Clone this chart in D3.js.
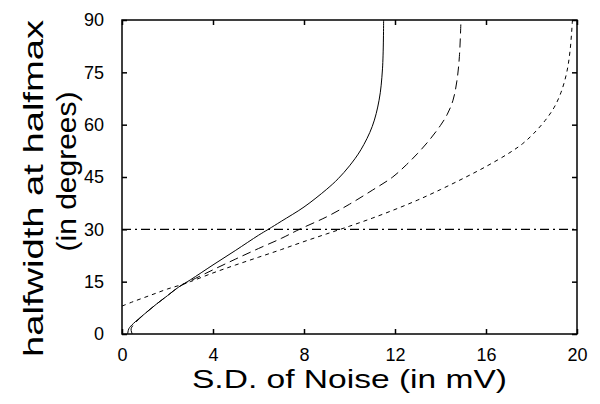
<!DOCTYPE html>
<html lang="en">
<head>
<meta charset="utf-8">
<title>halfwidth vs noise</title>
<script src="https://cdn.jsdelivr.net/npm/d3@7"></script>
<style>
  html, body { margin: 0; padding: 0; background: #fff; overflow: hidden; }
  text { font-family: "Liberation Sans", Arial, Helvetica, sans-serif; fill: #000; }
  .title { font-size: 28px; }
</style>
</head>
<body>
<div id="chart"></div>
<script>
// tick labels
var xTicks = [0, 4, 8, 12, 16, 20];
var yTicks = [0, 15, 30, 45, 60, 75, 90];

// reference level (degrees)
var refLevel = 30;

// curves: [noise SD (mV), halfwidth (deg)]
var solidCurve = [
  [0.25, 0], [0.3, 1.5], [0.5, 3], [1, 5.8], [1.5, 8.5], [2, 11], [2.5, 13.5],
  [3, 15.5], [4, 19.8], [5, 24], [6, 28.3], [6.43, 30], [7, 32.3], [8, 36.4],
  [9, 41.5], [9.5, 44.5], [10, 48.2], [10.5, 52.8], [11, 59.5], [11.3, 67],
  [11.45, 76], [11.5, 90]
];
var dashedCurve = [
  [0.45, 0], [0.4, 1.5], [0.6, 3.3], [1, 5.8], [1.5, 8.5], [2, 11], [2.5, 13.5],
  [3, 15.2], [4, 18.4], [5, 21.5], [6, 24.5], [7, 27.4], [7.8, 30], [9, 33.6],
  [10, 37.2], [11, 41.2], [11.9, 45], [12.5, 48.5], [13, 51.8], [13.5, 55.5],
  [14, 59.8], [14.3, 63], [14.55, 67], [14.72, 72.5], [14.83, 79.5], [14.9, 90]
];
var dottedCurve = [
  [0, 8], [0.5, 9.3], [1, 10.5], [1.5, 11.7], [2, 12.9], [2.5, 13.9], [3, 15],
  [4, 17.5], [5, 19.8], [6, 22], [7, 24.2], [8, 26.5], [9, 28.7], [10, 30.9],
  [11, 33.2], [12, 35.7], [13, 38.4], [14, 41.4], [15, 44.6], [16, 48],
  [17, 51.8], [17.6, 54.5], [18.1, 57.5], [18.6, 61.2], [19, 65], [19.3, 69.3],
  [19.55, 75], [19.7, 81.5], [19.8, 90]
];

var width = 600, height = 404;
var m = { left: 122, right: 577, top: 20, bottom: 334 };

var svg = d3.select("#chart").append("svg")
  .attr("width", width)
  .attr("height", height);

var x = d3.scaleLinear().domain([0, 20]).range([m.left, m.right]);
var y = d3.scaleLinear().domain([0, 90]).range([m.bottom, m.top]);

svg.append("clipPath").attr("id", "clip")
  .append("rect")
  .attr("x", m.left).attr("y", m.top)
  .attr("width", m.right - m.left).attr("height", m.bottom - m.top);

var line = d3.line()
  .x(function(d) { return x(d[0]); })
  .y(function(d) { return y(d[1]); })
  .curve(d3.curveCatmullRom.alpha(0.5));

var plot = svg.append("g").attr("clip-path", "url(#clip)");

// reference line
plot.append("line")
  .attr("x1", x(0)).attr("x2", x(20))
  .attr("y1", y(refLevel)).attr("y2", y(refLevel))
  .attr("stroke", "#000")
  .attr("stroke-width", 1.2)
  .attr("stroke-dasharray", "9,4,2,4");

var curves = [
  { data: solidCurve, dash: null },
  { data: dashedCurve, dash: "9,5" },
  { data: dottedCurve, dash: "4,4" }
];

plot.selectAll("path.curve")
  .data(curves)
  .enter()
  .append("path")
  .attr("class", "curve")
  .attr("d", function(d) { return line(d.data); })
  .attr("fill", "none")
  .attr("stroke", "#000")
  .attr("stroke-width", 1)
  .attr("stroke-dasharray", function(d) { return d.dash; });

// axes: ticks pointing inwards on all four sides
var tickLen = 5;
svg.append("g")
  .attr("transform", "translate(0," + m.bottom + ")")
  .call(d3.axisBottom(x).tickValues(xTicks).tickSize(-tickLen).tickPadding(14).tickFormat(d3.format("d")));
svg.append("g")
  .attr("transform", "translate(0," + m.top + ")")
  .call(d3.axisTop(x).tickValues(xTicks).tickSize(-tickLen).tickFormat(""));
svg.append("g")
  .attr("transform", "translate(" + m.left + ",0)")
  .call(d3.axisLeft(y).tickValues(yTicks).tickSize(-tickLen).tickPadding(18).tickFormat(d3.format("d")));
svg.append("g")
  .attr("transform", "translate(" + m.right + ",0)")
  .call(d3.axisRight(y).tickValues(yTicks).tickSize(-tickLen).tickFormat(""));

svg.selectAll(".domain").remove();
svg.selectAll(".tick line").attr("stroke", "#000").attr("stroke-width", 1.5);
svg.selectAll(".tick text")
  .style("font-size", "18px")
  .style("font-family", "'Liberation Sans', Arial, sans-serif")
  .attr("fill", "#000");

// frame
svg.append("rect")
  .attr("x", m.left).attr("y", m.top)
  .attr("width", m.right - m.left).attr("height", m.bottom - m.top)
  .attr("fill", "none")
  .attr("stroke", "#000")
  .attr("stroke-width", 1.5);

// axis titles
svg.append("text")
  .attr("class", "title")
  .attr("x", (m.left + m.right) / 2)
  .attr("y", 388)
  .attr("text-anchor", "middle")
  .style("font-size", "26px")
  .attr("textLength", 315)
  .attr("lengthAdjust", "spacingAndGlyphs")
  .text("S.D. of Noise (in mV)");

svg.append("text")
  .attr("class", "title")
  .attr("transform", "translate(43,188.5) rotate(-90)")
  .attr("text-anchor", "middle")
  .attr("textLength", 337)
  .attr("lengthAdjust", "spacingAndGlyphs")
  .text("halfwidth at halfmax");

svg.append("text")
  .attr("class", "title")
  .attr("transform", "translate(76,171.5) rotate(-90)")
  .attr("text-anchor", "middle")
  .attr("textLength", 160)
  .attr("lengthAdjust", "spacingAndGlyphs")
  .text("(in degrees)");
</script>
</body>
</html>
